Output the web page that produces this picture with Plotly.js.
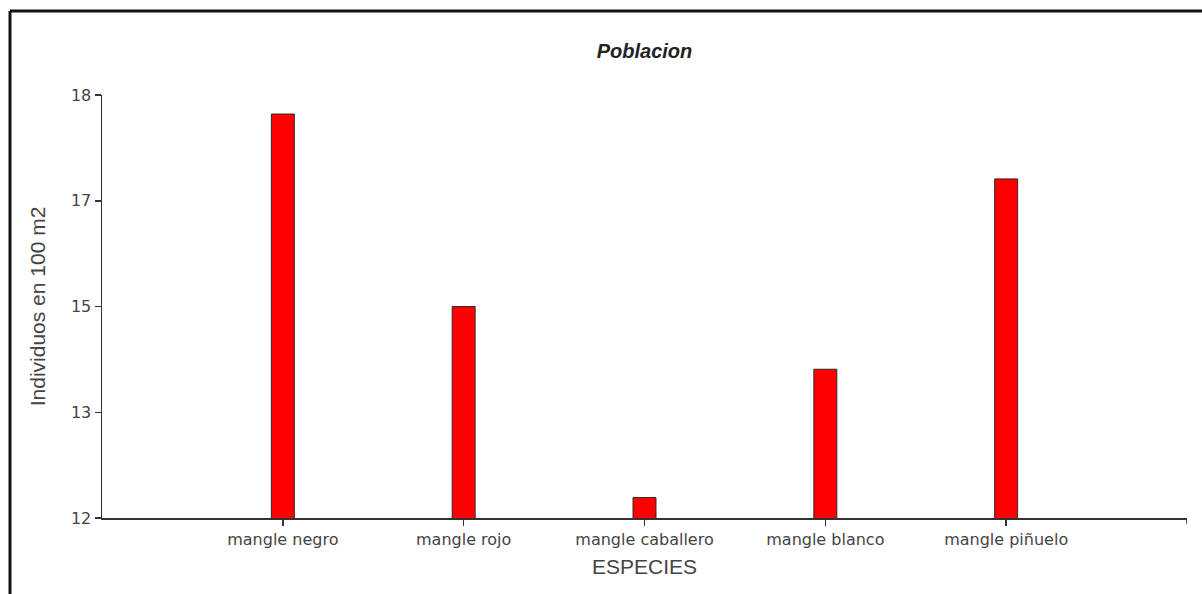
<!DOCTYPE html>
<html>
<head>
<meta charset="utf-8">
<script src="https://cdn.plot.ly/plotly-3.0.1.min.js"></script>
<style>
  html, body { margin: 0; padding: 0; background: #fff; }
  #chart { width: 1202px; height: 594px; }
</style>
</head>
<body>
<div id="chart"></div>
<script>
const categories = ['mangle negro', 'mangle rojo', 'mangle caballero', 'mangle blanco', 'mangle piñuelo'];
const individuos = [17.73, 15.0, 12.29, 14.11, 16.81];
const yTickVals = [12, 13.5, 15, 16.5, 18];
const yTickText = ['12', '13', '15', '17', '18'];

const W = 1202, H = 594;
const L = 102, R = 15, T = 95, B = 76;
const pw = W - L - R, ph = H - T - B;
const px = v => (v - L) / pw;
const py = v => (H - B - v) / ph;

const font = 'Liberation Sans, Arial, sans-serif';
const tickFont = 'DejaVu Sans, Verdana, sans-serif';

const trace = {
  type: 'bar',
  x: categories,
  y: individuos,
  width: 0.127,
  marker: { color: '#ff0000', line: { color: '#2a2a2a', width: 1 } },
  hoverinfo: 'x+y'
};

const layout = {
  width: W, height: H,
  margin: { l: L, r: R, t: T, b: B, pad: 0 },
  paper_bgcolor: '#ffffff',
  plot_bgcolor: '#ffffff',
  showlegend: false,
  font: { family: font, color: '#444' },
  title: {
    text: '<b><i>Poblacion</i></b>',
    font: { family: font, size: 20, color: '#222' },
    x: 0.5, xref: 'paper', xanchor: 'center',
    y: 1 - 51 / H, yref: 'container', yanchor: 'middle'
  },
  xaxis: {
    type: 'category',
    range: [-1, 5],
    showgrid: false, zeroline: false,
    showline: true, linecolor: '#333', linewidth: 1.5,
    ticks: 'outside', ticklen: 6, tickcolor: '#333', tickwidth: 1.5,
    tickfont: { family: tickFont, size: 16, color: '#444' },
    title: { text: 'ESPECIES', font: { family: font, size: 21, color: '#444' }, standoff: 11 },
    fixedrange: true
  },
  yaxis: {
    range: [12, 18],
    tickmode: 'array', tickvals: yTickVals, ticktext: yTickText,
    showgrid: false, zeroline: false,
    showline: true, linecolor: '#333', linewidth: 1.5,
    ticks: 'outside', ticklen: 6, tickcolor: '#333', tickwidth: 1.5,
    tickfont: { family: tickFont, size: 16, color: '#444' },
    title: { text: 'Individuos en 100 m2', font: { family: font, size: 21, color: '#444' }, standoff: 19 },
    fixedrange: true
  },
  bargap: 0,
  shapes: [
    { type: 'line', xref: 'x', yref: 'paper', x0: 5, x1: 5, y0: 0, y1: -6 / ph,
      line: { color: '#333', width: 1.5 } },
    { type: 'line', xref: 'paper', yref: 'paper', x0: px(10), x1: px(1205), y0: py(11), y1: py(11),
      line: { color: '#111', width: 3 } },
    { type: 'line', xref: 'paper', yref: 'paper', x0: px(10), x1: px(10), y0: py(11), y1: py(600),
      line: { color: '#111', width: 3 } }
  ]
};

Plotly.newPlot('chart', [trace], layout, { displayModeBar: false, staticPlot: true });
</script>
</body>
</html>
